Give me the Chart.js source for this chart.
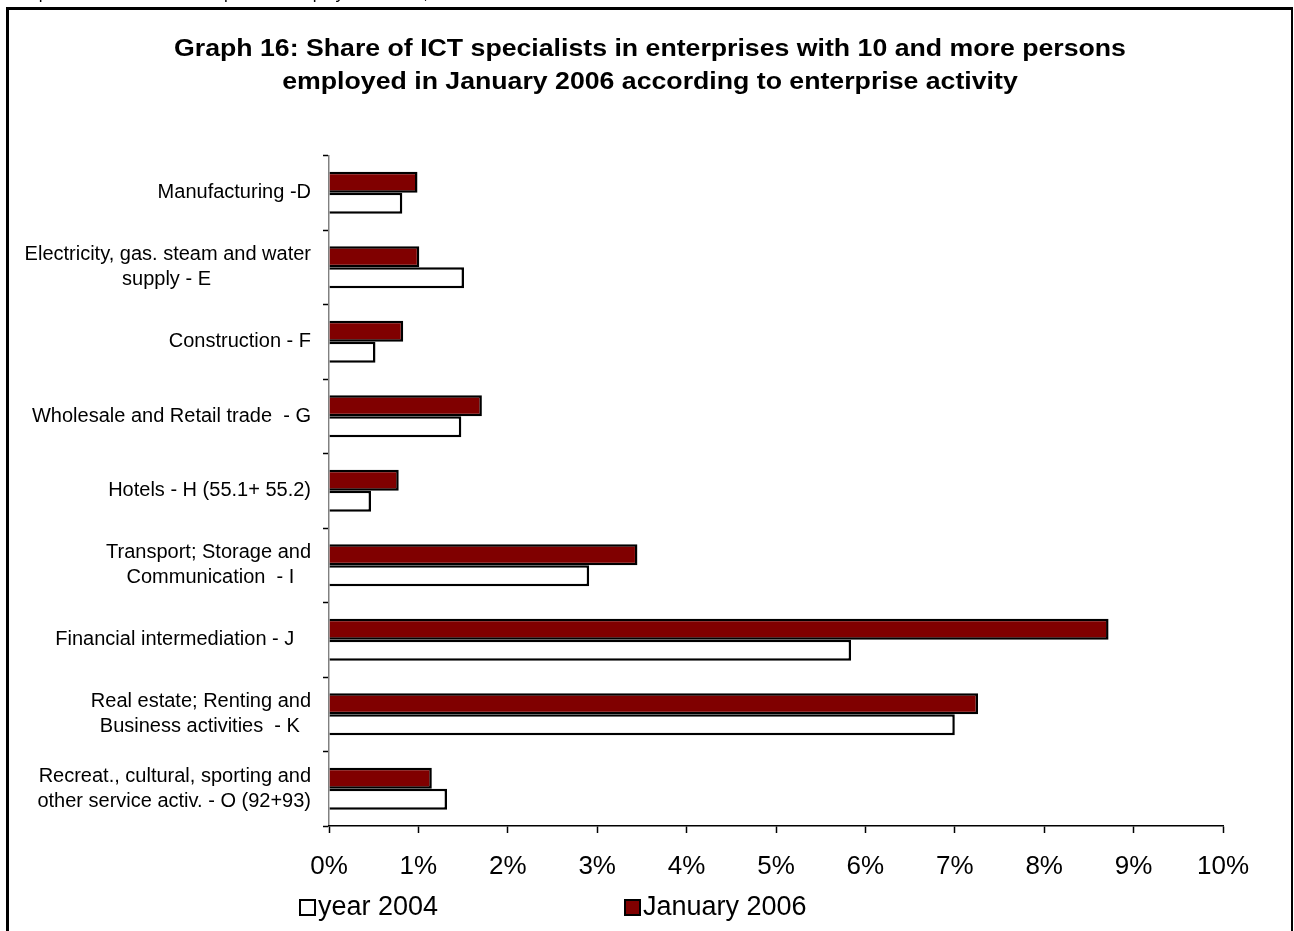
<!DOCTYPE html>
<html>
<head>
<meta charset="utf-8">
<script src="https://cdn.jsdelivr.net/npm/chart.js@4/dist/chart.umd.min.js"></script>
<style>
    body { margin: 0; background: #fff; font-family: "Liberation Sans", Arial, sans-serif; }
    #wrap { position: relative; width: 1294px; height: 931px; overflow: hidden; }
    #frame { position: absolute; left: 6px; top: 7px; width: 1282px; height: 1000px;
             border-left: 3px solid #000; border-top: 3px solid #000; border-right: 2px solid #000; pointer-events: none; }
    #above { position: absolute; left: 0; top: -16px; font-size: 17px; white-space: nowrap; color: #000; }
    #title { position: absolute; left: 6px; width: 1288px; top: 32px; text-align: center; font-weight: bold;
             font-size: 23px; line-height: 33px; color: #000; transform: scaleX(1.16); transform-origin: 50% 0; }
    .leg { position: absolute; top: 890px; font-size: 27px; line-height: 32px; color: #000; white-space: nowrap; }
    .leg i { display: inline-block; width: 13px; height: 13px; border: 2px solid #000; vertical-align: -1px; margin-right: 2px; }
</style>
</head>
<body>
<div id="wrap">
    <div id="above">enterprises with 10 and more persons employed in 2004, 2006</div>
    <div id="title"></div>
    <canvas id="chart"></canvas>
    <div id="frame"></div>
    <div class="leg" style="left:299px"><i style="background:#fff"></i>year 2004</div>
    <div class="leg" style="left:624px"><i style="background:#800000"></i>January 2006</div>
</div>
<script>
const titleLines = [
    'Graph 16: Share of ICT specialists in enterprises with 10 and more persons',
    'employed in January 2006 according to enterprise activity'
];

const activities = [
    'Manufacturing -D',
    ['Electricity, gas. steam and water', 'supply - E'],
    'Construction - F',
    'Wholesale and Retail trade  - G',
    'Hotels - H (55.1+ 55.2)',
    ['Transport; Storage and', 'Communication  - I'],
    'Financial intermediation - J   ',
    ['Real estate; Renting and', 'Business activities  - K'],
    ['Recreat., cultural, sporting and', 'other service activ. - O (92+93)']
];

// share of ICT specialists, %
const jan2006 = [0.99, 1.01, 0.83, 1.71, 0.78, 3.45, 8.72, 7.26, 1.15];
const year2004 = [0.82, 1.51, 0.52, 1.48, 0.47, 2.91, 5.84, 7.00, 1.32];

const xTicks = [0, 1, 2, 3, 4, 5, 6, 7, 8, 9, 10];

document.getElementById('title').innerHTML = titleLines.join('<br>');

const FONT = '"Liberation Sans", Arial, sans-serif';
const catFont = { family: FONT, size: 20, lineHeight: '25px' };

// two-line labels are centred on each other, so pad the shorter line with spaces
const measure = document.createElement('canvas').getContext('2d');
measure.font = catFont.size + 'px ' + FONT;
function centreLines(label) {
    if (!Array.isArray(label)) return label;
    const widths = label.map(l => measure.measureText(l).width);
    const max = Math.max(...widths);
    const sp = measure.measureText(' ').width;
    return label.map((l, i) => l + ' '.repeat(Math.round((max - widths[i]) / 2 / sp)));
}

new Chart(document.getElementById('chart'), {
    type: 'bar',
    data: {
        labels: activities.map(centreLines),
        datasets: [
            { label: 'January 2006', data: jan2006, backgroundColor: '#800000', borderColor: '#000', borderWidth: 2.5 },
            { label: 'year 2004', data: year2004, backgroundColor: '#fff', borderColor: '#000', borderWidth: 2.5 }
        ]
    },
    options: {
        indexAxis: 'y',
        responsive: true,
        maintainAspectRatio: false,
        animation: false,
        categoryPercentage: 0.565,
        barPercentage: 1.0,
        layout: { padding: { left: 0, right: 71, top: 155.5, bottom: 0 } },
        plugins: {
            legend: { display: false },
            tooltip: { enabled: false },
            title: { display: false }
        },
        scales: {
            y: {
                afterFit: s => { s.width = 329; },
                border: { color: '#808080', width: 1.5 },
                grid: { drawOnChartArea: false, drawTicks: true, tickLength: 6, tickColor: '#000', tickWidth: 1.5 },
                ticks: { color: '#000', font: catFont, padding: 12, autoSkip: false }
            },
            x: {
                min: 0,
                max: 10,
                afterFit: s => { s.height = 105; },
                afterBuildTicks: s => { s.ticks = xTicks.map(v => ({ value: v })); },
                border: { color: '#000', width: 1.5 },
                grid: { drawOnChartArea: false, drawTicks: true, tickLength: 7, tickColor: '#000', tickWidth: 1.5 },
                ticks: { color: '#000', font: { family: FONT, size: 26 }, padding: 18, maxRotation: 0,
                         callback: v => v + '%' }
            }
        }
    }
});
</script>
</body>
</html>
